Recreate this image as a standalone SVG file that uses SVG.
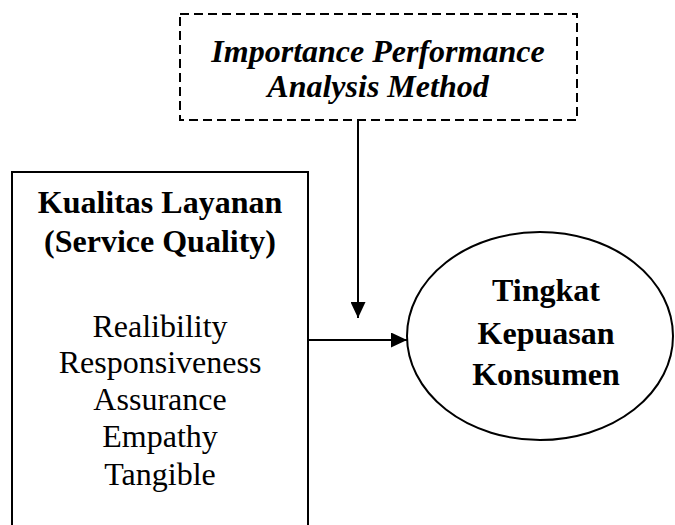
<svg xmlns="http://www.w3.org/2000/svg" width="675" height="525" viewBox="0 0 675 525">
<style>
.t{font-family:"Liberation Serif","Times New Roman",serif;font-size:32px;fill:#000;text-anchor:middle}
.b{font-weight:bold}
.i{font-style:italic}
.ln{stroke:#000;stroke-width:2;fill:none}
</style>
<defs>
<marker id="ah" markerWidth="16" markerHeight="15" refX="16" refY="7.5" orient="auto" markerUnits="userSpaceOnUse">
<path d="M0,0 L16,7.5 L0,15 Z" fill="#000"/>
</marker>
</defs>
<rect width="675" height="525" fill="#fff"/>
<g id="ipa">
<rect x="180" y="14" width="397" height="106" fill="none" stroke="#000" stroke-width="2" stroke-dasharray="9,5"/>
<text class="t b i" x="378" y="62">Importance Performance</text>
<text class="t b i" x="378" y="97">Analysis Method</text>
</g>
<g id="kualitas">
<rect x="12" y="172" width="296" height="370" fill="none" stroke="#000" stroke-width="2"/>
<text class="t b" x="160" y="213">Kualitas Layanan</text>
<text class="t b" x="160" y="252">(Service Quality)</text>
<text class="t" x="160" y="337">Realibility</text>
<text class="t" x="160" y="373">Responsiveness</text>
<text class="t" x="160" y="410">Assurance</text>
<text class="t" x="160" y="447">Empathy</text>
<text class="t" x="160" y="485">Tangible</text>
</g>
<g id="kepuasan">
<ellipse cx="540" cy="336" rx="133" ry="104" fill="none" stroke="#000" stroke-width="2"/>
<text class="t b" x="546" y="301">Tingkat</text>
<text class="t b" x="546" y="344">Kepuasan</text>
<text class="t b" x="546" y="385">Konsumen</text>
</g>
<g id="connectors">
<line class="ln" x1="358" y1="120" x2="358" y2="318" marker-end="url(#ah)"/>
<line class="ln" x1="308" y1="340" x2="407" y2="340" marker-end="url(#ah)"/>
</g>
</svg>
